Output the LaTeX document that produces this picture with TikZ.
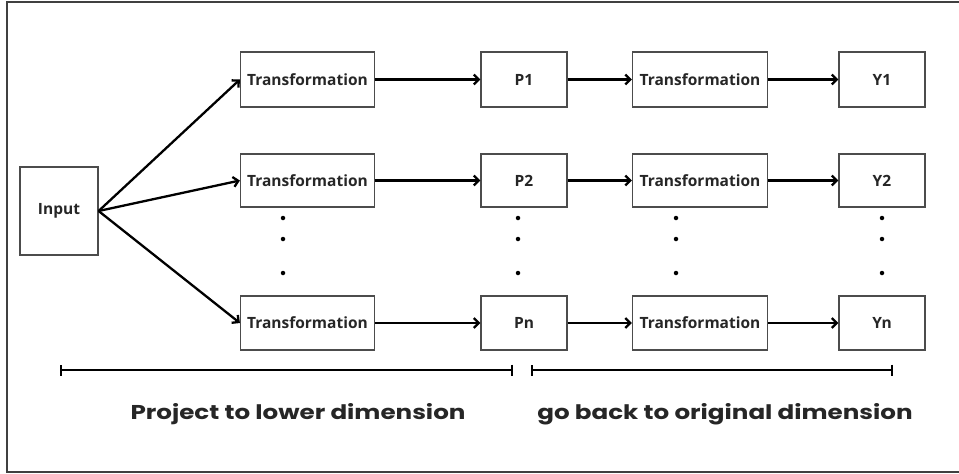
\documentclass[tikz,border=0pt]{standalone}
\usepackage{fontspec}
\setmainfont{Open Sans}
\newfontfamily\capfont{Poppins}[FakeStretch=1.23]
\usetikzlibrary{arrows.meta}
\begin{document}
\begin{tikzpicture}[x=1pt,y=-1pt,
  box/.style={draw=black!70, line width=1.2pt, fill=white, inner sep=0pt,
    font=\fontsize{15.5}{18}\selectfont\bfseries, text=black!85},
  flow/.style={line width=2.3pt, -{Straight Barb[length=5pt,width=10pt,line width=2.3pt]}},
  span/.style={line width=2.3pt, {Bar[width=11pt,line width=1.6pt]}-{Bar[width=11pt,line width=1.6pt]}},
  caption/.style={font=\capfont\bfseries\fontsize{20}{24}\selectfont, text=black!85},
  dot/.style={circle, fill=black, inner sep=0pt, minimum size=4.5pt}]
\useasboundingbox (0,0) rectangle (959,474);
% frame
\draw[black!75, line width=1.3pt] (7,2) rectangle (965,472);

% input
\node[box, minimum width=78pt, minimum height=88pt] (in) at (59,211) {Input};

% first transformation column
\node[box, minimum width=134pt, minimum height=55pt] (t1) at (307.5,79.5) {Transformation};
\node[box, minimum width=134pt, minimum height=53pt] (t2) at (307.5,180.5) {Transformation};
\node[box, minimum width=134pt, minimum height=54pt] (tn) at (307.5,323) {Transformation};

% projections
\node[box, minimum width=86pt, minimum height=55pt] (p1) at (524,79.5) {P1};
\node[box, minimum width=86pt, minimum height=53pt] (p2) at (524,180.5) {P2};
\node[box, minimum width=86pt, minimum height=54pt] (pn) at (524,323) {Pn};

% second transformation column
\node[box, minimum width=135pt, minimum height=55pt] (u1) at (700,79.5) {Transformation};
\node[box, minimum width=135pt, minimum height=53pt] (u2) at (700,180.5) {Transformation};
\node[box, minimum width=135pt, minimum height=54pt] (un) at (700,323) {Transformation};

% outputs
\node[box, minimum width=86pt, minimum height=55pt] (y1) at (882,79.5) {Y1};
\node[box, minimum width=86pt, minimum height=53pt] (y2) at (882,180.5) {Y2};
\node[box, minimum width=86pt, minimum height=54pt] (yn) at (882,323) {Yn};

% fan-out from the input
\draw[flow] (in.east) -- (t1.west);
\draw[flow] (in.east) -- (t2.west);
\draw[flow] (in.east) -- (tn.west);

% row connectors
\foreach \r in {1,2,n} {
  \draw[flow] (t\r.east) -- (p\r.west);
  \draw[flow] (p\r.east) -- (u\r.west);
  \draw[flow] (u\r.east) -- (y\r.west);
}

% vertical ellipses
\foreach \c/\x in {a/283,b/518,c/676,d/882} {
  \node[dot] (\c1) at (\x,218) {};
  \node[dot] (\c2) at (\x,239) {};
  \node[dot] (\c3) at (\x,273) {};
}

% spans with captions
\coordinate (la) at (60,370);
\coordinate (lb) at (513,370);
\coordinate (ra) at (531,370);
\coordinate (rb) at (893,370);
\draw[span] (la) -- (lb);
\draw[span] (ra) -- (rb);
\node[caption] (lc) at (298,414) {Project to lower dimension};
\node[caption] (rc) at (725,414) {go back to original dimension};
\end{tikzpicture}
\end{document}
